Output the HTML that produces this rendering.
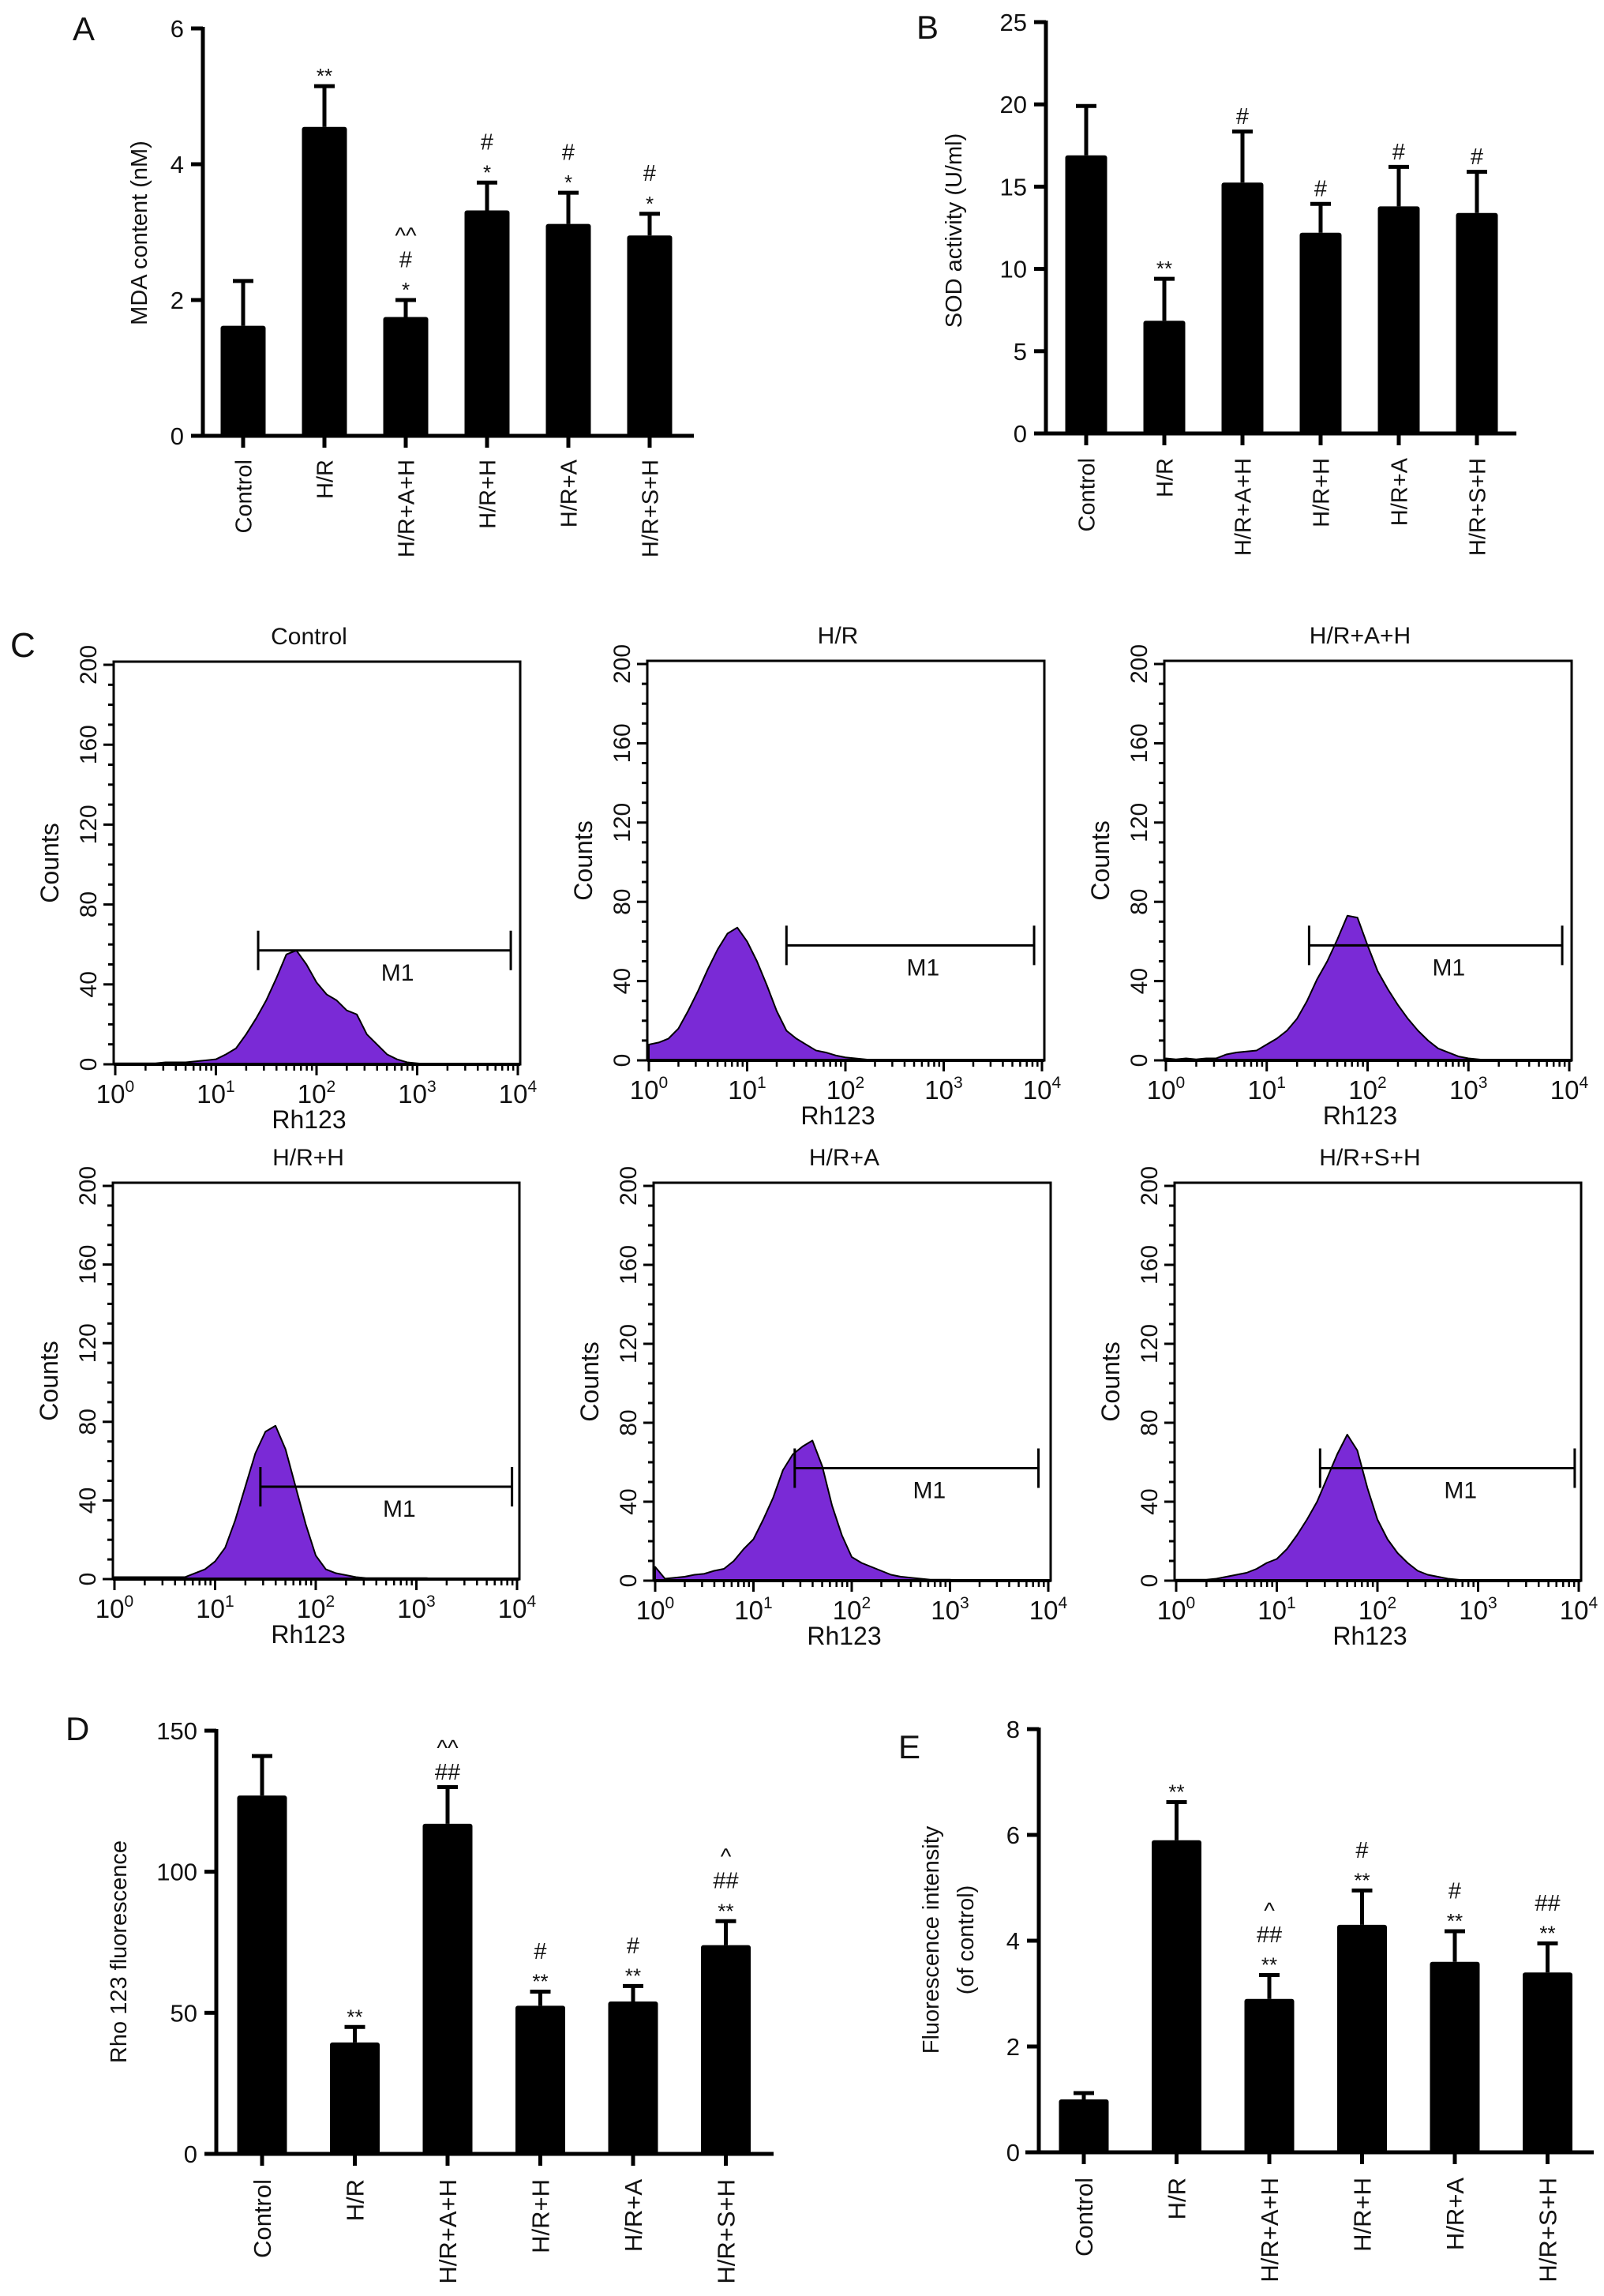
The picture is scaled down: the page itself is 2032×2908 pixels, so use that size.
<!DOCTYPE html>
<html><head><meta charset="utf-8"><style>
html,body{margin:0;padding:0;background:#fff}
svg{display:block}
text{font-family:"Liberation Sans",Arial,sans-serif;fill:#111}
</style></head><body>
<svg id="fig" xmlns="http://www.w3.org/2000/svg" width="2032" height="2908" viewBox="0 0 2032 2908">
<rect width="2032" height="2908" fill="#fff"/>
</svg>
<script>
// ---- bar chart data ----
const categories = ["Control","H/R","H/R+A+H","H/R+H","H/R+A","H/R+S+H"];
const mdaValues = [1.62,4.55,1.75,3.32,3.12,2.95];
const mdaErrors = [0.66,0.6,0.25,0.41,0.46,0.32];
const mdaTicks = [0,2,4,6];
const mdaMarks = ["","**","^^|#|*","#|*","#|*","#|*"];
const sodValues = [16.9,6.85,15.25,12.2,13.8,13.4];
const sodErrors = [3.0,2.55,3.1,1.75,2.4,2.5];
const sodTicks = [0,5,10,15,20,25];
const sodMarks = ["","**","#","#","#","#"];
const rhoValues = [127,39.5,117,52.5,54,74];
const rhoErrors = [14,5.5,13,5,5.5,8.5];
const rhoTicks = [0,50,100,150];
const rhoMarks = ["","**","^^|##","#|**","#|**","^|##|**"];
const fluValues = [1.0,5.9,2.9,4.3,3.6,3.4];
const fluErrors = [0.12,0.72,0.45,0.65,0.58,0.55];
const fluTicks = [0,2,4,6,8];
const fluMarks = ["","**","^|##|**","#|**","#|**","##|**"];
// ---- histogram data (counts per 0.1-decade bin, log10 0..4) ----
const histTitles = ["Control","H/R","H/R+A+H","H/R+H","H/R+A","H/R+S+H"];
const histControl = [0.5,0.5,0.5,0.5,0.5,1,1,1,1.5,2,2.5,5,8,15,23,32,43,55,57,50,41,35,32,27,25,15,10,5,2.5,1,0.5,0,0,0,0,0,0,0,0,0,0];
const histHR = [8,9,11,16,25,35,46,56,64,67,60,50,38,25,15,11,8,5,4,2.5,1.5,1,0.5,0,0,0,0,0,0,0,0,0,0,0,0,0,0,0,0,0,0];
const histHRAH = [1,0.5,1,0.5,1,1,3,4,4.5,5,8,11,15,21,30,41,50,61,73,72,58,45,36,28,21,15,10,6,4,2,1,0.5,0,0,0,0,0,0,0,0,0];
const histHRH = [1,1,1,1,1,1,1,1,3,5,9,16,30,47,64,75,78,66,47,28,12,5,3,2,1,0.5,0.5,0.5,0.5,0.5,0.5,0.5,0,0,0,0,0,0,0,0,0];
const histHRA = [7,1,1.5,2,3,3.5,5,6,10,16,21,31,42,56,64,68,71,58,38,23,12,9,7,5,3,2,1.5,1,0.5,0.5,0.5,0,0,0,0,0,0,0,0,0,0];
const histHRSH = [0.5,0.5,0.5,0.5,1,2,3,4,6,9,11,16,23,31,40,52,64,74,66,47,31,21,14,9,5,3,2,1,0.5,0,0,0,0,0,0,0,0,0,0,0,0];
const histPeaks = [62,68,78,82,74,80];
const m1From = [1.42,1.40,1.42,1.45,1.42,1.43];
const m1To = [3.93,3.92,3.93,3.95,3.90,3.96];
const m1Count = [57,58,58,47,57,57];
const countTicks = [0,40,80,120,160,200];
const decadeTicks = [0,1,2,3,4];

const NS="http://www.w3.org/2000/svg";
const svg=document.getElementById('fig');
function el(tag,attrs,parent){const e=document.createElementNS(NS,tag);for(const k in attrs)e.setAttribute(k,attrs[k]);(parent||svg).appendChild(e);return e;}
function txt(s,attrs,parent){const e=el('text',attrs,parent);e.textContent=s;return e;}

function barChart(cfg,values,errors,ticks,marks){
  const g=el('g',{});
  
  
  const vmax=ticks[ticks.length-1];
  const y=v=>cfg.y0-(v/vmax)*(cfg.y0-cfg.yTop);
  const cx=i=>cfg.c0+i*cfg.step;
  // letter
  const L=txt(cfg.letter,{x:cfg.lx,y:cfg.ly,'font-size':42},g);
  
  // bars
  values.forEach((v,i)=>{
    const top=y(v+errors[i]);
    const eb=el('path',{d:`M${cx(i)},${y(v)} V${top} M${cx(i)-13},${top} H${cx(i)+13}`,stroke:'#000','stroke-width':5,fill:'none'},g);
    
    const r=el('rect',{x:cx(i)-cfg.bw/2,y:y(v),width:cfg.bw,height:cfg.y0-y(v),fill:'#000',rx:3},g);
    
    // significance marks
    const lines=marks[i]?marks[i].split('|').reverse():[];
    let c=top-20;
    lines.forEach((s,k)=>{
      if(k>0) c-= (s.indexOf('^')>=0?36:32);
      let fs,off;
      if(s.indexOf('*')>=0){fs=26;off=0.6;} else if(s.indexOf('#')>=0){fs=29;off=-0.36;} else {fs=29;off=0.55;}
      if(s.indexOf('*')>=0) off=0.62;
      const yy = s.indexOf('#')>=0 ? c+0.36*fs : c+off*fs;
      const t=txt(s,{x:cx(i),y:yy,'font-size':fs,'text-anchor':'middle'},g);
      
    });
    // category label
    const lb=txt(categories[i],{x:0,y:0,'font-size':cfg.lfs,'text-anchor':'end',transform:`translate(${cx(i)+0.36*cfg.lfs},${cfg.labTop}) rotate(-90)`},g);
    
    const tk=el('line',{x1:cx(i),x2:cx(i),y1:cfg.y0,y2:cfg.y0+15,stroke:'#000','stroke-width':5},g);
    
  });
  // axes
  const ya=el('line',{x1:cfg.ax,x2:cfg.ax,y1:cfg.yTop-2,y2:cfg.y0+2,stroke:'#000','stroke-width':5},g);
  
  const xa=el('line',{x1:cfg.xs,x2:cfg.xe,y1:cfg.y0,y2:cfg.y0,stroke:'#000','stroke-width':5},g);
  
  ticks.forEach(t=>{
    const l=el('line',{x1:cfg.ax-15,x2:cfg.ax,y1:y(t),y2:y(t),stroke:'#000','stroke-width':5},g);
    
    const tl=txt(String(t),{x:cfg.ax-24,y:y(t)+11,'font-size':31,'text-anchor':'end'},g);
    
  });
  cfg.titles.forEach((tt,k)=>{
    const t=txt(tt,{x:0,y:0,'font-size':29,'text-anchor':'middle',transform:`translate(${cfg.tx[k]+10},${cfg.ty}) rotate(-90)`},g);
    
  });
}

barChart({name:'panel-a-mda-chart',letter:'A',lx:92,ly:51,ax:257,y0:552,yTop:36,xs:242,xe:879,c0:308,step:103,bw:57,labTop:582,lfs:29,titles:['MDA content (nM)'],tx:[176],ty:295},mdaValues,mdaErrors,mdaTicks,mdaMarks);
barChart({name:'panel-b-sod-chart',letter:'B',lx:1161,ly:49,ax:1325,y0:549,yTop:28,xs:1312,xe:1921,c0:1376,step:99,bw:53,labTop:580,lfs:29,titles:['SOD activity (U/ml)'],tx:[1208],ty:292},sodValues,sodErrors,sodTicks,sodMarks);
barChart({name:'panel-d-rho-chart',letter:'D',lx:83,ly:2204,ax:274,y0:2728,yTop:2192,xs:259,xe:980,c0:332,step:117.5,bw:63,labTop:2760,lfs:31,titles:['Rho 123 fluorescence'],tx:[150],ty:2472},rhoValues,rhoErrors,rhoTicks,rhoMarks);
barChart({name:'panel-e-fluorescence-chart',letter:'E',lx:1138,ly:2227,ax:1316,y0:2726,yTop:2190,xs:1299,xe:2019,c0:1373,step:117.5,bw:63,labTop:2758,lfs:31,titles:['Fluorescence intensity','(of control)'],tx:[1179,1223],ty:2457},fluValues,fluErrors,fluTicks,fluMarks);

// ---- histograms ----
const histData=[histControl,histHR,histHRAH,histHRH,histHRA,histHRSH];
const boxes=[{l:144,t:838,r:659,b:1348},{l:820,t:837,r:1323,b:1343},{l:1475,t:837,r:1991,b:1343},{l:143,t:1498,r:658,b:2000},{l:828,t:1498,r:1331,b:2002},{l:1488,t:1498,r:2003,b:2002}];
txt('C',{x:13,y:832,'font-size':44});
histData.forEach((data,p)=>{
  const B=boxes[p];
  const g=el('g',{});
  
  
  const y=c=>B.b-(c/200)*(B.b-B.t-4);
  const x=lg=>B.l+2+lg*(B.r-B.l-5)/4;
  // fill
  let d=`M${x(0)},${y(0)}`;
  data.forEach((c,i)=>{d+=` L${x(i*0.1)},${y(c)}`;});
  d+=` L${x(4)},${y(0)} Z`;
  const f=el('path',{d:d,fill:'#7a2ad6',stroke:'#000','stroke-width':2,'stroke-linejoin':'round'},g);
  
  // box
  const bx=el('path',{d:`M${B.l},${B.b} V${B.t} H${B.r} V${B.b} Z`,fill:'none',stroke:'#000','stroke-width':3},g);
  
  el('line',{x1:B.l,x2:B.r,y1:B.b,y2:B.b,stroke:'#000','stroke-width':4},g);
  // y ticks
  for(let c=0;c<=200;c+=10){
    const major=countTicks.indexOf(c)>=0;
    el('line',{x1:B.l-(major?13:7),x2:B.l,y1:y(c),y2:y(c),stroke:'#000','stroke-width':3},g);
  }
  countTicks.forEach(c=>{
    const t=txt(String(c),{x:0,y:0,'font-size':30,'text-anchor':'middle',transform:`translate(${B.l-22},${y(c)}) rotate(-90)`},g);
    
  });
  // x ticks
  decadeTicks.forEach(dk=>{
    el('line',{x1:x(dk),x2:x(dk),y1:B.b,y2:B.b+14,stroke:'#000','stroke-width':3},g);
    if(dk<4){for(let m=2;m<=9;m++){const xx=x(dk+Math.log10(m));el('line',{x1:xx,x2:xx,y1:B.b,y2:B.b+8,stroke:'#000','stroke-width':2.5},g);}}
    const t=el('text',{x:x(dk),y:B.b+49,'font-size':33,'text-anchor':'middle'},g);
    
    const a=document.createElementNS(NS,'tspan');a.textContent='10';t.appendChild(a);
    const s=document.createElementNS(NS,'tspan');s.setAttribute('dy','-14');s.setAttribute('font-size','21');s.textContent=String(dk);t.appendChild(s);
  });
  const xt=txt('Rh123',{x:(B.l+B.r)/2-10,y:B.b+81,'font-size':32,'text-anchor':'middle'},g);
  
  const yt=txt('Counts',{x:0,y:0,'font-size':32,'text-anchor':'middle',transform:`translate(${B.l-70},${(B.t+B.b)/2}) rotate(-90)`},g);
  
  const tt=txt(histTitles[p],{x:(B.l+B.r)/2-10,y:B.t-22,'font-size':30,'text-anchor':'middle'},g);
  
  // M1 marker
  const my=y(m1Count[p]);
  const m=el('path',{d:`M${x(m1From[p])},${my} H${x(m1To[p])} M${x(m1From[p])},${my-25} V${my+25} M${x(m1To[p])},${my-25} V${my+25}`,stroke:'#000','stroke-width':3,fill:'none'},g);
  
  const ml=txt('M1',{x:x((m1From[p]+m1To[p])/2+0.13),y:my+38,'font-size':30,'text-anchor':'middle'},g);
  
});
</script>
</body></html>
